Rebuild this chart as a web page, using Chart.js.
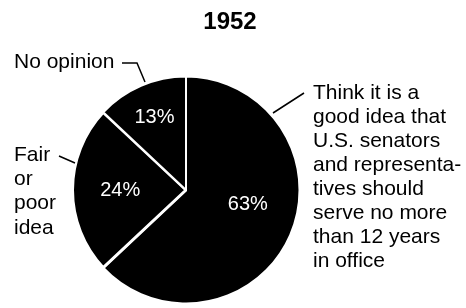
<!DOCTYPE html>
<html>
<head>
<meta charset="utf-8">
<script src="https://cdn.jsdelivr.net/npm/chart.js@4/dist/chart.umd.min.js"></script>
<style>
  html, body { margin: 0; padding: 0; background: #fff; }
  canvas { display: block; }
</style>
</head>
<body>
<canvas id="pie" width="466" height="308"></canvas>
<script>
// 1952 poll: term limits for members of Congress
const TITLE = "1952";
const categories = ["Good idea", "Fair or poor idea", "No opinion"];
const shares = [63, 24, 13];
const valueLabels = shares.map(v => v + "%");

const goodLines = ["Think it is a", "good idea that", "U.S. senators", "and representa-",
    "tives should", "serve no more", "than 12 years", "in office"];
const fairLines = ["Fair", "or", "poor", "idea"];
const noOpinionLine = "No opinion";

const FONT = '"Liberation Sans", Arial, Helvetica, sans-serif';

// where the percent labels sit inside each slice: angle nudge (deg) and fraction of radius
const INSIDE = [
    { nudge: -10, frac: 0.56 },
    { nudge: 0, frac: 0.58 },
    { nudge: 0, frac: 0.70 }
];

const annotate = {
    id: "annotate",
    afterDraw(chart) {
        const ctx = chart.ctx;
        const arcs = chart.getDatasetMeta(0).data;
        ctx.save();

        // title
        ctx.fillStyle = "#000";
        ctx.font = "bold 24px " + FONT;
        ctx.textAlign = "center";
        ctx.textBaseline = "middle";
        ctx.fillText(TITLE, 230, 22);

        // values inside slices
        ctx.font = "20px " + FONT;
        ctx.fillStyle = "#fff";
        arcs.forEach((arc, i) => {
            const mid = (arc.startAngle + arc.endAngle) / 2 + INSIDE[i].nudge * Math.PI / 180;
            const r = arc.outerRadius * INSIDE[i].frac;
            ctx.fillText(valueLabels[i], arc.x + Math.cos(mid) * r, arc.y + Math.sin(mid) * r);
        });

        // outside labels
        ctx.font = "21px " + FONT;
        ctx.fillStyle = "#000";
        ctx.textAlign = "left";
        ctx.fillText(noOpinionLine, 14, 62);
        fairLines.forEach((t, i) => ctx.fillText(t, 14, 155 + i * 24.3));
        goodLines.forEach((t, i) => ctx.fillText(t, 313, 93 + i * 24));

        // leader lines
        ctx.strokeStyle = "#000";
        ctx.lineWidth = 1.5;
        ctx.beginPath();
        ctx.moveTo(122, 63); ctx.lineTo(137, 63); ctx.lineTo(145, 82);
        ctx.moveTo(59, 156); ctx.lineTo(75, 163);
        ctx.moveTo(273, 113); ctx.lineTo(304, 93);
        ctx.stroke();

        ctx.restore();
    }
};

new Chart(document.getElementById("pie"), {
    type: "pie",
    data: {
        labels: categories,
        datasets: [{
            data: shares,
            backgroundColor: "#000",
            borderColor: "#fff",
            borderWidth: [2, 3, 2]
        }]
    },
    options: {
        responsive: false,
        animation: false,
        devicePixelRatio: 1,
        layout: { padding: { left: 71, right: 165, top: 75, bottom: 3 } },
        plugins: {
            legend: { display: false },
            tooltip: { enabled: false }
        }
    },
    plugins: [annotate]
});
</script>
</body>
</html>
